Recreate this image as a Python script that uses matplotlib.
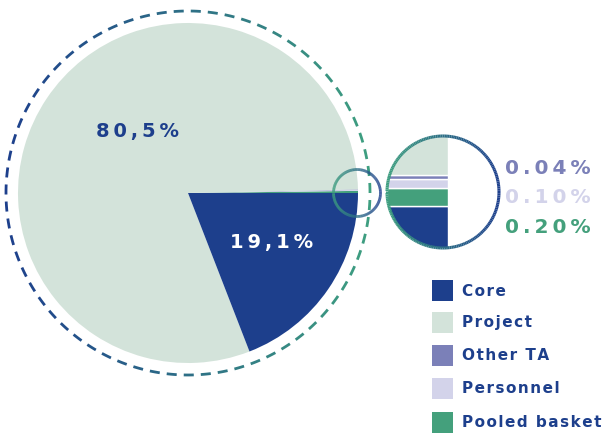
import numpy as np
import matplotlib
matplotlib.use('Agg')
import matplotlib.pyplot as plt
from matplotlib.patches import Circle, Rectangle
from matplotlib.collections import LineCollection
from matplotlib.colors import to_rgb

# Data
categories = ['Core', 'Project', 'Other TA', 'Personnel', 'Pooled basket']
values = [19.1, 80.5, 0.04, 0.10, 0.20]
colors = ['#1d3f8c', '#d3e3da', '#7b80b8', '#d3d3ea', '#44a07c']
main_labels = ['19,1%', '80,5%']
small_labels = ['0.04%', '0.10%', '0.20%']

NAVY = '#1d3f8c'
GREEN = '#3e9f80'
W, H = 602, 435


def spaced(s, sep='\u2009'):
    return sep.join(s)


def py(y):
    # pixel row (from top) -> data y
    return H - y


def mix(c1, c2, t):
    a, b = np.array(to_rgb(c1)), np.array(to_rgb(c2))
    return tuple(a + (b - a) * t)


def gradient_ring(ax, cx, cy, r, left, right, lw, dashed=False, zorder=5):
    segs, cols = [], []
    if dashed:
        circ = 2 * np.pi * r
        n = int(circ // 17)
        step = 2 * np.pi / n
        dash = step * 10 / 17
        for i in range(n):
            t0 = i * step
            th = np.linspace(t0, t0 + dash, 8)
            xs, ys = cx + r * np.cos(th), cy + r * np.sin(th)
            segs.append(np.column_stack([xs, ys]))
            cols.append(mix(left, right, (xs.mean() - (cx - r)) / (2 * r)))
    else:
        th = np.linspace(0, 2 * np.pi, 200)
        xs, ys = cx + r * np.cos(th), cy + r * np.sin(th)
        for i in range(len(th) - 1):
            segs.append([(xs[i], ys[i]), (xs[i + 1], ys[i + 1])])
            cols.append(mix(left, right, ((xs[i] + xs[i + 1]) / 2 - (cx - r)) / (2 * r)))
    lc = LineCollection(segs, colors=cols, linewidths=lw, capstyle='butt', zorder=zorder)
    ax.add_collection(lc)


fig = plt.figure(figsize=(W / 100, H / 100), dpi=100)
ax = fig.add_axes([0, 0, 1, 1])

# Main pie: order counterclockwise from east -> pooled, personnel, other, project, core
order = [4, 3, 2, 1, 0]
ax.pie([values[i] for i in order], colors=[colors[i] for i in order],
       center=(188, py(194)), radius=170, startangle=0, counterclock=True,
       wedgeprops=dict(linewidth=0), frame=True)

gradient_ring(ax, 188, py(194), 182, NAVY, GREEN, 2.0, dashed=True)

ax.text(137, py(131), spaced(main_labels[1]), color=NAVY, fontsize=14,
        fontweight='bold', ha='center', va='center')
ax.text(272, py(243), spaced(main_labels[0]), color='white', fontsize=14,
        fontweight='bold', ha='center', va='center')

# Small magnifier circle on the main pie
gradient_ring(ax, 357, py(194), 23.5, GREEN, NAVY, 2.0, zorder=6)

# Inset zoomed circle
icx, icy, ir = 443, py(193), 56
clip = Circle((icx, icy), ir, transform=ax.transData)
bg = Circle((icx, icy), ir, facecolor='white', edgecolor='none', zorder=7)
ax.add_patch(bg)
xl, xr = icx - ir, 448
scale = 90  # px per percent in the zoomed view
core_top = py(207)
strips = [(0, icy - ir, core_top)]
y0 = core_top
for idx in [4, 3, 2]:
    h = values[idx] * scale
    strips.append((idx, y0, y0 + h))
    y0 += h
strips.append((1, y0, icy + ir))
for idx, ya, yb in strips:
    rect = Rectangle((xl, ya), xr - xl, yb - ya, facecolor=colors[idx],
                     edgecolor='white', linewidth=1.0, zorder=8)
    rect.set_clip_path(clip)
    ax.add_patch(rect)
gradient_ring(ax, icx, icy, ir, GREEN, NAVY, 2.2, zorder=9)

for lab, col, yy in zip(small_labels, [colors[2], colors[3], colors[4]], [168, 198, 228]):
    ax.text(548, py(yy), spaced(lab), color=col, fontsize=14.5, fontweight='bold',
            ha='center', va='center')

# Legend
leg_y = [291, 323, 356, 389, 423]
for cat, col, yy in zip(categories, colors, leg_y):
    ax.add_patch(Rectangle((432, py(yy) - 10.5), 21, 21, facecolor=col, edgecolor='none'))
    ax.text(462, py(yy), spaced(cat, '\u200a'), color=NAVY, fontsize=11, fontweight='bold',
            ha='left', va='center')

ax.set_xlim(0, W)
ax.set_ylim(0, H)
ax.set_aspect('equal')
ax.axis('off')

fig.savefig('out.png', dpi=100)
